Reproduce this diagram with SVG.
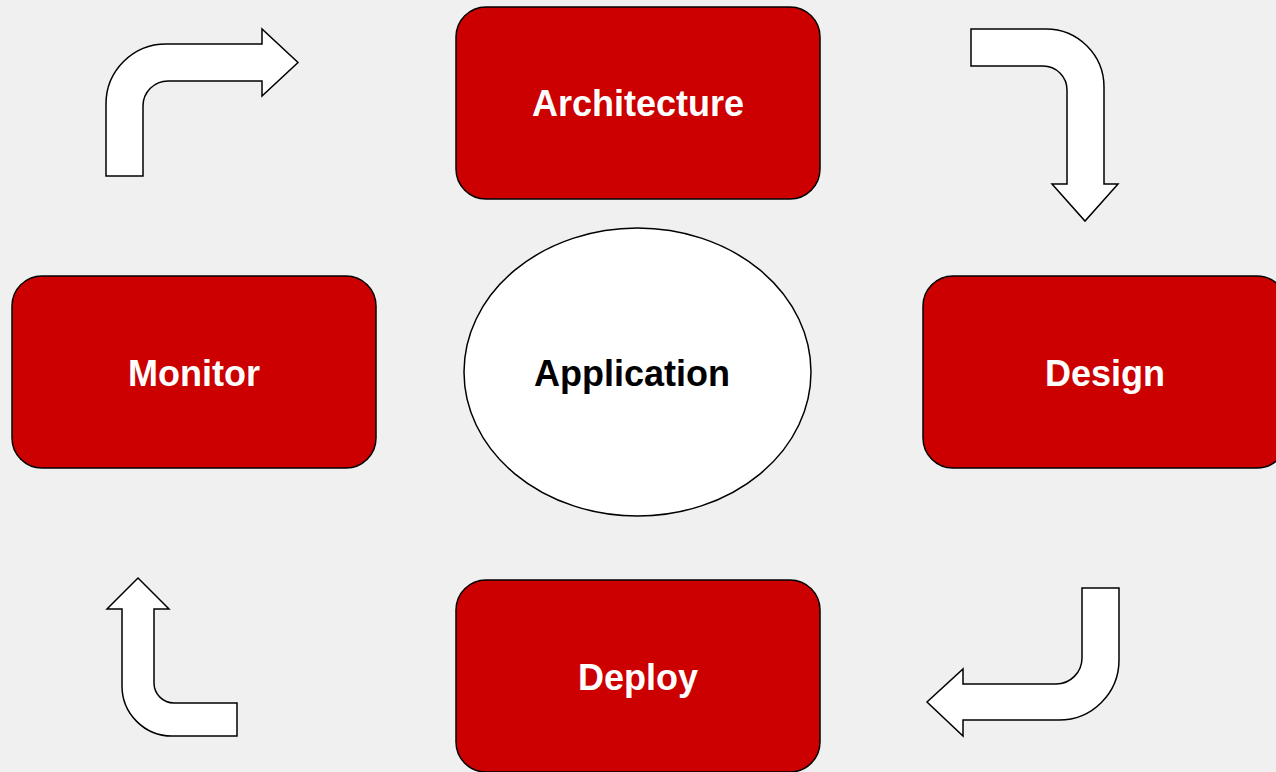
<svg xmlns="http://www.w3.org/2000/svg" width="1276" height="772" viewBox="0 0 1276 772">
<style>
.box{fill:#cc0000;stroke:#000;stroke-width:1.5}
.lbl{font-family:"Liberation Sans",Arial,sans-serif;font-weight:bold;font-size:36px;text-anchor:middle}
.w{fill:#fff}
.k{fill:#000}
.arr{fill:#fff;stroke:#000;stroke-width:1.5;stroke-linejoin:miter}
</style>
<rect width="1276" height="772" fill="#f0f0f0"/>
<g id="connectors">
<path class="arr" d="M 106 176 L 106 104 A 60 60 0 0 1 166 44 L 262 44 L 262 29 L 298 62.5 L 262 96 L 262 81 L 168 81 A 25 25 0 0 0 143 106 L 143 176 Z"/>
<path class="arr" d="M 971 29 L 1046 29 A 58 58 0 0 1 1104 87 L 1104 184 L 1118 184 L 1085 221 L 1052 184 L 1067 184 L 1067 90 A 24 24 0 0 0 1043 66 L 971 66 Z"/>
<path class="arr" d="M 1082 588 L 1119 588 L 1119 660 A 60 60 0 0 1 1059 720 L 963 720 L 963 736 L 927 702 L 963 669 L 963 684 L 1056 684 A 26 26 0 0 0 1082 658 Z"/>
<path class="arr" d="M 237 703 L 237 736 L 172 736 A 50 50 0 0 1 122 686 L 122 609 L 107 609 L 138 578 L 169 609 L 154 609 L 154 683 A 20 20 0 0 0 174 703 Z"/>
</g>
<g id="architecture">
<rect class="box" x="456" y="7" width="364" height="192" rx="30"/>
<text class="lbl w" x="638" y="116">Architecture</text>
</g>
<g id="monitor">
<rect class="box" x="12" y="276" width="364" height="192" rx="30"/>
<text class="lbl w" x="194" y="386">Monitor</text>
</g>
<g id="design">
<rect class="box" x="923" y="276" width="364" height="192" rx="30"/>
<text class="lbl w" x="1105" y="386">Design</text>
</g>
<g id="deploy">
<rect class="box" x="456" y="580" width="364" height="192" rx="30"/>
<text class="lbl w" x="638" y="690">Deploy</text>
</g>
<g id="application">
<ellipse cx="637.5" cy="372" rx="173.5" ry="144" fill="#fff" stroke="#000" stroke-width="1.5"/>
<text class="lbl k" x="632" y="386">Application</text>
</g>
</svg>
